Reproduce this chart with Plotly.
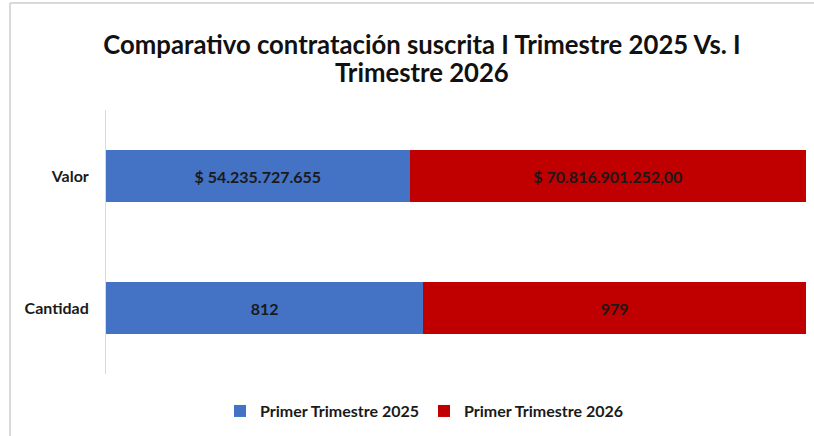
import plotly.graph_objects as go

categories = ["Cantidad", "Valor"]
series_2025 = [812, 54235727655]
series_2026 = [979, 70816901252.00]
labels_2025 = ["812", "$ 54.235.727.655"]
labels_2026 = ["979", "$ 70.816.901.252,00"]
series_names = ["Primer Trimestre 2025", "Primer Trimestre 2026"]
colors = ["#4472C4", "#C00000"]
title_line1 = "Comparativo contratación suscrita I Trimestre 2025 Vs. I"
title_line2 = "Trimestre 2026"

FONT = "Lato"

fig = go.Figure()
fig.add_trace(go.Bar(
    y=categories, x=series_2025, orientation="h",
    name="<b>%s</b>" % series_names[0],
    marker=dict(color=colors[0], line=dict(width=0)),
    text=["<b>%s</b>" % t for t in labels_2025], textposition="inside",
    insidetextanchor="middle",
    textfont=dict(family=FONT, size=16, color="#1a1a1a"),
))
fig.add_trace(go.Bar(
    y=categories, x=series_2026, orientation="h",
    name="<b>%s</b>" % series_names[1],
    marker=dict(color=colors[1], line=dict(width=0)),
    text=["<b>%s</b>" % t for t in labels_2026], textposition="inside",
    insidetextanchor="middle",
    textfont=dict(family=FONT, size=16, color="#1a1a1a"),
))

L, R, T, B = 106, 8, 110, 62
W, H = 814, 436
pw, ph = W - L - R, H - T - B

def px_x(x):
    return (x - L) / pw

def px_y(y):
    return (H - B - y) / ph

fig.update_layout(
    width=W, height=H,
    barmode="stack", barnorm="fraction",
    bargap=0.6,
    margin=dict(l=L, r=R, t=T, b=B, pad=0, autoexpand=False),
    paper_bgcolor="white", plot_bgcolor="white",
    font=dict(family=FONT, color="#1a1a1a"),
    title=dict(
        text="<b>%s</b>" % title_line1,
        x=422 / W, xanchor="center", xref="container",
        y=1 - 45 / H, yanchor="middle", yref="container",
        font=dict(family=FONT, size=25.7, color="#111111"),
    ),
    xaxis=dict(range=[0, 1], showgrid=False, showticklabels=False, zeroline=False,
               showline=False, fixedrange=True, automargin=False),
    yaxis=dict(showgrid=False, zeroline=False, showline=True, linecolor="#d9d9d9",
               linewidth=1, ticks="", ticklabelstandoff=13, automargin=False,
               tickvals=categories, ticktext=["<b>%s</b>" % c for c in categories],
               tickfont=dict(family=FONT, size=16, color="#1a1a1a")),
    showlegend=True,
    legend=dict(orientation="h", x=0.455, xanchor="center", y=-0.076, yanchor="top",
                font=dict(family=FONT, size=16, color="#1a1a1a"),
                itemwidth=30, traceorder="normal"),
)

fig.add_annotation(text="<b>%s</b>" % title_line2, xref="paper", yref="paper",
                   x=px_x(422), y=px_y(72), xanchor="center", yanchor="middle",
                   showarrow=False, font=dict(family=FONT, size=25.7, color="#111111"))

fig.add_shape(type="line", xref="paper", yref="paper",
              x0=px_x(10), x1=px_x(814), y0=px_y(3), y1=px_y(3),
              line=dict(color="#d9d9d9", width=2))
fig.add_shape(type="line", xref="paper", yref="paper",
              x0=px_x(10), x1=px_x(10), y0=px_y(3), y1=px_y(436),
              line=dict(color="#d9d9d9", width=2))

fig.write_html("out.html", config={"displayModeBar": False},
               post_script="document.body.style.margin='0px';document.body.style.overflow='hidden';")
